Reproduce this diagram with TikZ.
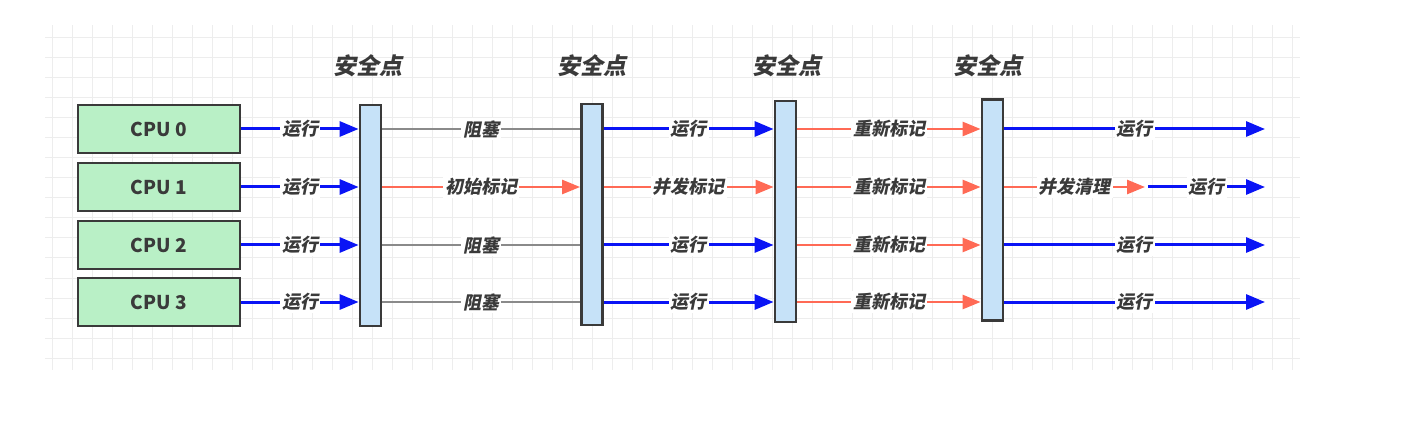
\documentclass[tikz,border=0pt]{standalone}
\usepackage{fontspec}
\setmainfont{Noto Sans CJK SC}
\newfontfamily\cjkslant[FakeSlant=0.2]{Noto Sans CJK SC}
\usetikzlibrary{arrows.meta,positioning}

\definecolor{cpugreen}{HTML}{B9F0C6}
\definecolor{barblue}{HTML}{C6E2F8}
\definecolor{runblue}{HTML}{0A14F5}
\definecolor{markred}{HTML}{FF6A55}
\definecolor{edgegray}{HTML}{3A3A3A}
\definecolor{blockgray}{HTML}{8A8A8A}
\definecolor{gridgray}{HTML}{EDEDED}

\tikzset{
  cpu/.style={draw=edgegray, line width=1.4pt, fill=cpugreen, minimum width=81pt, minimum height=24pt,
    font=\bfseries\fontsize{9.5}{10}\selectfont, text=edgegray},
  safebar/.style={draw=edgegray, line width=1.4pt, fill=barblue, minimum width=10.5pt, minimum height=110.5pt, inner sep=0pt},
  sptitle/.style={font=\cjkslant\bfseries\fontsize{11.5}{12}\selectfont, text=edgegray},
  lbl/.style={fill=white, inner sep=1pt, font=\cjkslant\bfseries\fontsize{9}{10}\selectfont, text=edgegray},
  run/.style={draw=runblue, line width=1.5pt, -{Triangle[length=9.5pt,width=7.5pt]}},
  redmark/.style={draw=markred, line width=1.3pt, -{Triangle[length=9pt,width=7pt]}},
  blocked/.style={draw=blockgray, line width=1pt},
  gridline/.style={draw=gridgray, line width=0.5pt},
}

\begin{document}
\begin{tikzpicture}[x=0.5pt, y=-0.5pt]
    \useasboundingbox (0,0) rectangle (1423,427);
    % grid
    \foreach \gx in {52,72,...,1292} \draw[gridline] (\gx,25) -- (\gx,370);
    \foreach \gy in {38,58,...,358} \draw[gridline] (45,\gy) -- (1300,\gy);

    % cpus
    \node[cpu] (cpu0) at (159,129) {CPU 0};
    \node[cpu] (cpu1) at (159,187) {CPU 1};
    \node[cpu] (cpu2) at (159,245) {CPU 2};
    \node[cpu] (cpu3) at (159,302) {CPU 3};

    % safe points
    \node[safebar] (sp1) at (370.5,215.5) {};
    \node[safebar] (sp2) at (592,214.5) {};
    \node[safebar] (sp3) at (785.5,211.5) {};
    \node[safebar] (sp4) at (992.5,210) {};
    \node[sptitle] (t1) at (368,66) {安全点};
    \node[sptitle] (t2) at (592,66) {安全点};
    \node[sptitle] (t3) at (787,66) {安全点};
    \node[sptitle] (t4) at (988,66) {安全点};

    \coordinate (end0) at (1265,129);
    \coordinate (end1) at (1265,187);
    \coordinate (end2) at (1265,245);
    \coordinate (end3) at (1265,302);
    \coordinate (cleanend) at (1145,187);
    \coordinate (runstart) at (1148,187);

    % cpu -> first safe point
    \foreach \c in {0,...,3}
        \draw[run] (cpu\c) -- (cpu\c -| sp1.west) node[lbl, midway] {运行};

    % row 0
    \draw[blocked] (cpu0 -| sp1.east) -- (cpu0 -| sp2.west) node[lbl, midway] {阻塞};
    \draw[run] (cpu0 -| sp2.east) -- (cpu0 -| sp3.west) node[lbl, midway] {运行};
    \draw[redmark] (cpu0 -| sp3.east) -- (cpu0 -| sp4.west) node[lbl, midway] {重新标记};
    \draw[run] (cpu0 -| sp4.east) -- (end0) node[lbl, midway] {运行};

    % row 1
    \draw[redmark] (cpu1 -| sp1.east) -- (cpu1 -| sp2.west) node[lbl, midway] {初始标记};
    \draw[redmark] (cpu1 -| sp2.east) -- (cpu1 -| sp3.west) node[lbl, midway] {并发标记};
    \draw[redmark] (cpu1 -| sp3.east) -- (cpu1 -| sp4.west) node[lbl, midway] {重新标记};
    \draw[redmark] (cpu1 -| sp4.east) -- (cleanend) node[lbl, midway] {并发清理};
    \draw[run] (runstart) -- (end1) node[lbl, midway] {运行};

    % row 2
    \draw[blocked] (cpu2 -| sp1.east) -- (cpu2 -| sp2.west) node[lbl, midway] {阻塞};
    \draw[run] (cpu2 -| sp2.east) -- (cpu2 -| sp3.west) node[lbl, midway] {运行};
    \draw[redmark] (cpu2 -| sp3.east) -- (cpu2 -| sp4.west) node[lbl, midway] {重新标记};
    \draw[run] (cpu2 -| sp4.east) -- (end2) node[lbl, midway] {运行};

    % row 3
    \draw[blocked] (cpu3 -| sp1.east) -- (cpu3 -| sp2.west) node[lbl, midway] {阻塞};
    \draw[run] (cpu3 -| sp2.east) -- (cpu3 -| sp3.west) node[lbl, midway] {运行};
    \draw[redmark] (cpu3 -| sp3.east) -- (cpu3 -| sp4.west) node[lbl, midway] {重新标记};
    \draw[run] (cpu3 -| sp4.east) -- (end3) node[lbl, midway] {运行};
\end{tikzpicture}
\end{document}
